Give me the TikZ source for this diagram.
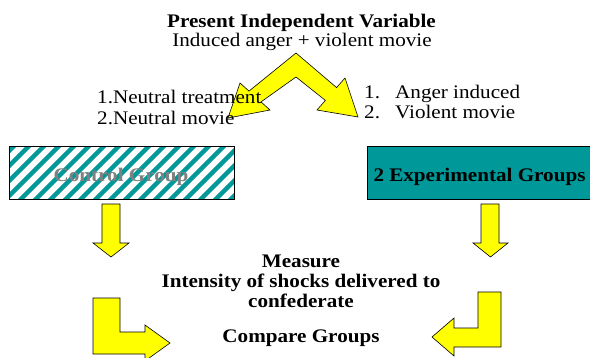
\documentclass[tikz,border=0pt]{standalone}
\usepackage{fontspec}
\setmainfont{Liberation Serif}[FakeStretch=1.1]
\definecolor{tealbox}{RGB}{0,152,152}
\definecolor{arrowyellow}{RGB}{255,255,0}
\definecolor{ctrlgray}{RGB}{128,128,128}
\begin{document}
\begin{tikzpicture}[x=1pt,y=-1pt,
  yarrow/.style={fill=arrowyellow,draw=black,line width=0.6pt,line join=miter},
  txt/.style={inner sep=0pt,anchor=base,font=\fontsize{19.2}{20}\selectfont},
  txtw/.style={txt,anchor=base west},
  bld/.style={txt,font=\fontsize{19.2}{20}\selectfont\bfseries},
  boxst/.style={draw=black,line width=0.8pt}]
\useasboundingbox (0,0) rectangle (590,357);
\clip (0,0) rectangle (590,357);
% chevron arrow
\draw[yarrow] (296,53) -- (336.6,87.6) -- (345,78) -- (358,117) -- (317,110) -- (325.4,100.4)
  -- (296,77) -- (261,101.9) -- (270,110) -- (228,118) -- (240,83) -- (249,91.1) -- cycle;
% title texts
\node[bld] (title) at (301.5,27) {Present Independent Variable};
\node[txt] (sub) at (302,46) {Induced anger + violent movie};
% left labels
\node[txtw] (l1) at (97,103) {1.Neutral treatment};
\node[txtw] (l2) at (97,124) {2.Neutral movie};
% right labels
\node[txtw] (r1n) at (364,98) {1.};
\node[txtw] (r1) at (395,98) {Anger induced};
\node[txtw] (r2n) at (364,118) {2.};
\node[txtw] (r2) at (395,118) {Violent movie};
% control box with stripes
\begin{scope}
  \clip (9,146) rectangle (234,199);
  \fill[white] (9,146) rectangle (234,199);
  \foreach \i in {-60,-45,...,240} {
    \draw[tealbox,line width=4.5pt] (\i,205) -- (\i+65,140);
  }
\end{scope}
\draw[boxst] (9,146) rectangle (234,199);
\node[bld,text=ctrlgray] (ctrl) at (121,181) {Control Group};
% experimental box
\draw[boxst,fill=tealbox] (367,146) rectangle (595,199);
\node[bld] (exp) at (479.5,181) {2 Experimental Groups};
% down arrows
\draw[yarrow] (102,204) -- (120,204) -- (120,243) -- (129,243) -- (111,257) -- (93,243) -- (102,243) -- cycle;
\draw[yarrow] (481,204) -- (499,204) -- (499,243) -- (508,243) -- (490.5,257) -- (473,243) -- (481,243) -- cycle;
% measure texts
\node[bld] (m1) at (301,267) {Measure};
\node[bld] (m2) at (301,287) {Intensity of shocks delivered to};
\node[bld] (m3) at (301,307) {confederate};
\node[bld] (cmp) at (301,342) {Compare Groups};
% bent arrows
\draw[yarrow] (93,298) -- (120,298) -- (120,332) -- (145,332) -- (145,325) -- (170,343) -- (145,361) -- (145,354) -- (93,354) -- cycle;
\draw[yarrow] (478,292) -- (501,292) -- (501,347) -- (454,347) -- (454,356) -- (432,337) -- (454,318) -- (454,328) -- (478,328) -- cycle;
\end{tikzpicture}
\end{document}
